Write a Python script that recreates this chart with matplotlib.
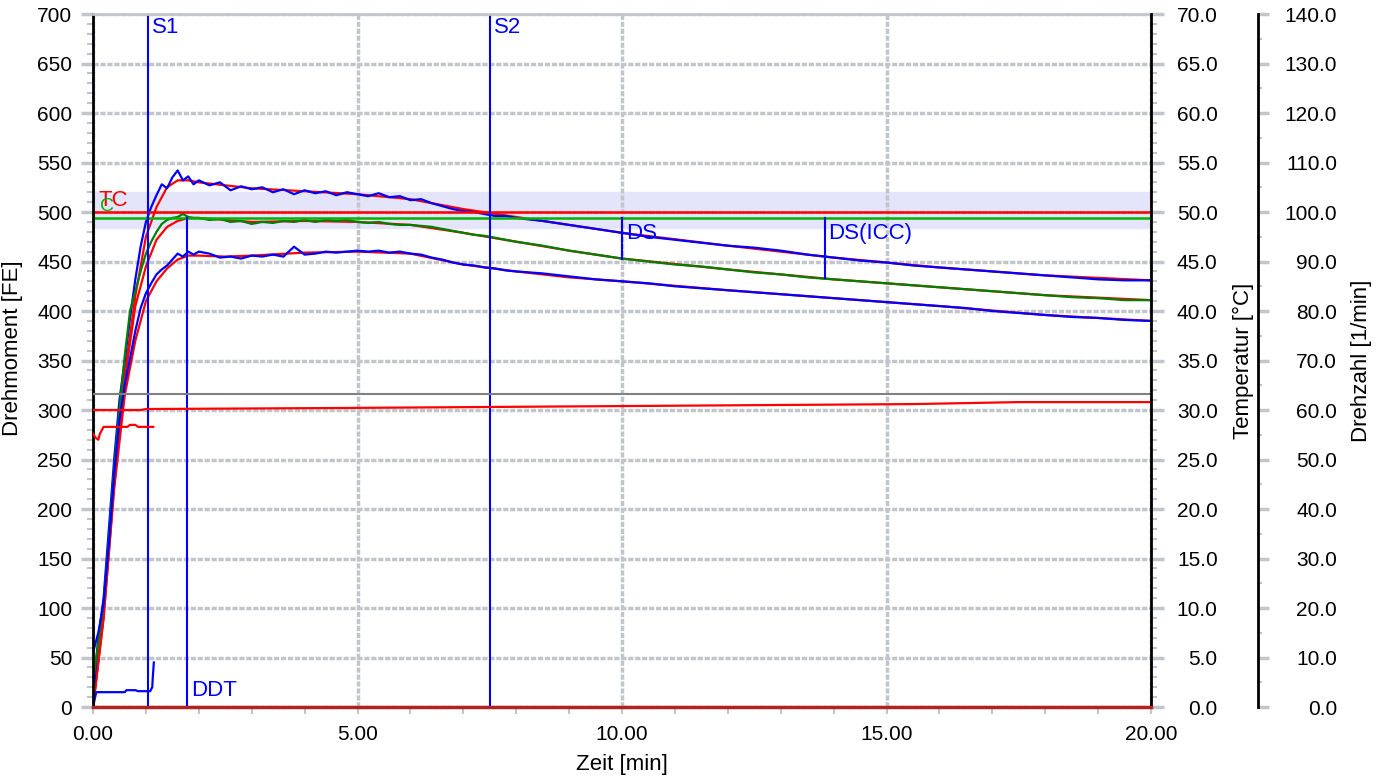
import numpy as np
import matplotlib.pyplot as plt
from matplotlib.ticker import MultipleLocator, FormatStrFormatter

plt.rcParams['font.family'] = ['Liberation Sans', 'DejaVu Sans']

# time base for the measured (noisy) torque curves [min]
t = np.concatenate([np.arange(0, 2.01, 0.1), np.arange(2.2, 8.01, 0.2), np.arange(8.5, 20.01, 0.5)])

upper_blue = [10, 70, 110, 180, 250, 310, 350, 393, 432, 465, 490, 505, 517, 528, 524, 535, 542, 532, 536, 528, 532,
              527, 530, 522, 526, 523, 525, 520, 523, 518, 522, 519, 521, 517, 520, 518, 516, 519, 515, 516, 512,
              513, 509, 506, 503, 501, 500, 498, 496, 496, 494,
              491, 487, 483, 479, 475, 472, 469, 466, 464, 461, 457, 454, 451, 449, 446, 444, 442, 440, 438, 436,
              434, 432, 431, 431]
middle_green = [25, 65, 105, 170, 240, 300, 355, 400, 420, 440, 458, 470, 480, 488, 492, 494, 495, 498, 495, 494, 494,
                492, 493, 490, 491, 488, 490, 489, 491, 490, 492, 490, 492, 491, 492, 490, 489, 490, 488, 487, 487,
                486, 485, 483, 481, 479, 477, 476, 474, 472, 470,
                466, 461, 457, 453, 450, 447, 445, 442, 439, 437, 434, 432, 430, 428, 426, 424, 422, 420, 418, 416,
                414, 413, 411, 411]
lower_blue = [55, 75, 105, 165, 235, 290, 325, 352, 380, 403, 418, 428, 437, 442, 446, 452, 458, 455, 460, 457, 460,
              458, 454, 455, 453, 456, 455, 457, 455, 465, 457, 458, 460, 459, 460, 461, 460, 461, 459, 460, 458,
              457, 454, 452, 449, 447, 446, 444, 443, 441, 440,
              438, 435, 432, 430, 428, 425, 423, 421, 419, 417, 415, 413, 411, 409, 407, 405, 403, 400, 398, 396,
              394, 393, 391, 390]

# smoothed curves
t_s = [0, 0.2, 0.4, 0.6, 0.8, 1.0, 1.2, 1.4, 1.6, 1.8, 2.0, 2.5, 3, 4, 5, 6, 7, 8, 9, 10, 12, 14, 16, 18, 20]
upper_red = [0, 95, 235, 335, 415, 475, 505, 525, 532, 532, 530, 527, 524, 521, 518, 513, 503, 495, 487, 479,
             466, 454, 444, 436, 431]
middle_red = [0, 90, 225, 330, 405, 445, 472, 485, 491, 494, 494, 492, 490, 491, 490, 487, 479, 470, 461, 453,
              442, 432, 424, 416, 411]
lower_red = [0, 90, 220, 315, 370, 410, 430, 443, 452, 456, 456, 455, 456, 459, 460, 458, 447, 440, 434, 430,
             421, 413, 405, 396, 390]

# temperature [°C]
t_temp = [0, 0.9, 1.0, 4.5, 10, 15.5, 17.5, 20]
temp = [30.0, 30.0, 30.1, 30.2, 30.4, 30.6, 30.8, 30.8]
t_temp0 = [0, 0.05, 0.1, 0.13, 0.2, 0.65, 0.7, 0.8, 0.85, 1.14]
temp0 = [27.6, 27.2, 27.0, 27.6, 28.3, 28.3, 28.5, 28.5, 28.3, 28.3]
temp_ref = 31.6

# small blue trace at the bottom
t_low = [0, 0.06, 0.6, 0.63, 0.8, 0.85, 1.08, 1.12, 1.13, 1.15]
v_low = [0, 15, 15, 17, 17, 16, 16, 20, 30, 45]

# drehzahl
t_rpm = [0, 20]
rpm = [0, 0]

tol_lo, tol_hi = 484, 520
tc_level, c_level = 500, 494
s1, s2, ddt, ds, ds_icc = 1.04, 7.51, 1.78, 10.0, 13.83
ds_val, ds_icc_val = 453, 433

grid_c = '#c2c6ca'
lw = 1.6

fig = plt.figure(figsize=(13.84, 7.76), dpi=100)
ax = fig.add_axes([0.0672, 0.0889, 0.7645, 0.893])
ax.set_xlim(0, 20)
ax.set_ylim(0, 700)
ax.set_axisbelow(True)

ax.axhspan(tol_lo, tol_hi, color='#e4e4fa', zorder=0)
ax.grid(True, which='major', color=grid_c, linewidth=2.5, linestyle=(0, (1.5, 0.5)))

ax.plot(t_s, upper_red, color='red', lw=lw)
ax.plot(t_s, middle_red, color='red', lw=lw)
ax.plot(t_s, lower_red, color='red', lw=lw)
ax.plot(t, upper_blue, color='blue', lw=lw)
ax.plot(t, middle_green, color='#008000', lw=lw)
ax.plot(t, lower_blue, color='blue', lw=lw)
ax.plot(t_low, v_low, color='blue', lw=lw)

ax.axhline(tc_level, color='red', lw=1.8)
ax.axhline(c_level, color='#00b400', lw=1.8)

ax.axvline(s1, color='blue', lw=1.5)
ax.axvline(s2, color='blue', lw=1.5)
ax.plot([ddt, ddt], [0, c_level], color='blue', lw=1.5)
ax.plot([ds, ds], [ds_val, c_level], color='blue', lw=1.5)
ax.plot([ds_icc, ds_icc], [ds_icc_val, c_level], color='blue', lw=1.5)

txt = dict(color='blue', fontsize=16, va='center')
ax.text(s1 + 0.07, 686, 'S1', **txt)
ax.text(s2 + 0.07, 686, 'S2', **txt)
ax.text(ds + 0.07, 478, 'DS', **txt)
ax.text(ds_icc + 0.07, 478, 'DS(ICC)', **txt)
ax.text(ddt + 0.07, 17, 'DDT', **txt)
ax.text(0.1, 512, 'TC', color='red', fontsize=16, va='center')
ax.text(0.13, 506, 'C', color='#00b400', fontsize=14, va='center')

ax.xaxis.set_major_locator(MultipleLocator(5))
ax.xaxis.set_minor_locator(MultipleLocator(1))
ax.xaxis.set_major_formatter(FormatStrFormatter('%.2f'))
ax.yaxis.set_major_locator(MultipleLocator(50))
ax.yaxis.set_minor_locator(MultipleLocator(10))
ax.tick_params(axis='x', which='both', length=5, width=1.5, color=grid_c, pad=8, labelsize=15)
ax.tick_params(axis='y', which='major', length=9, width=2.5, color=grid_c, pad=6, labelsize=15)
ax.tick_params(axis='y', which='minor', length=4, width=1.5, color=grid_c)
ax.spines['left'].set_linewidth(2)
ax.spines['top'].set_color(grid_c)
ax.spines['top'].set_linewidth(2)
ax.spines['right'].set_visible(False)
ax.set_xlabel('Zeit [min]', fontsize=16)
ax.set_ylabel('Drehmoment [FE]', fontsize=16)
ax.yaxis.set_label_coords(-0.066, 0.518)
ax.xaxis.set_label_coords(0.5, -0.068)

# temperature axis
ax2 = ax.twinx()
ax2.set_ylim(0, 70)
ax2.plot(t_temp, temp, color='red', lw=lw)
ax2.plot(t_temp0, temp0, color='red', lw=lw)
ax2.axhline(temp_ref, color='#808080', lw=1.5)
ax2.yaxis.set_major_locator(MultipleLocator(5))
ax2.yaxis.set_minor_locator(MultipleLocator(1))
ax2.yaxis.set_major_formatter(FormatStrFormatter('%.1f'))
ax2.tick_params(axis='y', which='major', length=9, width=2.5, color=grid_c, pad=39, labelsize=15)
ax2.tick_params(axis='y', which='minor', length=4, width=1.5, color=grid_c)
for lab in ax2.get_yticklabels():
    lab.set_horizontalalignment('right')
for s in ['left', 'top', 'bottom']:
    ax2.spines[s].set_visible(False)
ax2.spines['right'].set_linewidth(2)
ax2.set_ylabel('Temperatur [°C]', fontsize=16)
ax2.yaxis.set_label_coords(1.0775, 0.5)

# drehzahl axis
ax3 = ax.twinx()
ax3.set_ylim(0, 140)
ax3.plot(t_rpm, rpm, color='#b22222', lw=2.5, clip_on=False)
ax3.spines['right'].set_position(('axes', 1 + 107 / 1058))
ax3.yaxis.set_major_locator(MultipleLocator(10))
ax3.yaxis.set_minor_locator(MultipleLocator(5))
ax3.yaxis.set_major_formatter(FormatStrFormatter('%.1f'))
ax3.tick_params(axis='y', which='major', length=8, width=2.5, color=grid_c, pad=49, labelsize=15)
ax3.tick_params(axis='y', which='minor', length=3, width=1.5, color=grid_c)
for lab in ax3.get_yticklabels():
    lab.set_horizontalalignment('right')
for s in ['left', 'top', 'bottom']:
    ax3.spines[s].set_visible(False)
ax3.spines['right'].set_linewidth(2)
ax3.set_ylabel('Drehzahl [1/min]', fontsize=16)
ax3.yaxis.set_label_coords(1.189, 0.5)

fig.savefig('out.png', dpi=100)
